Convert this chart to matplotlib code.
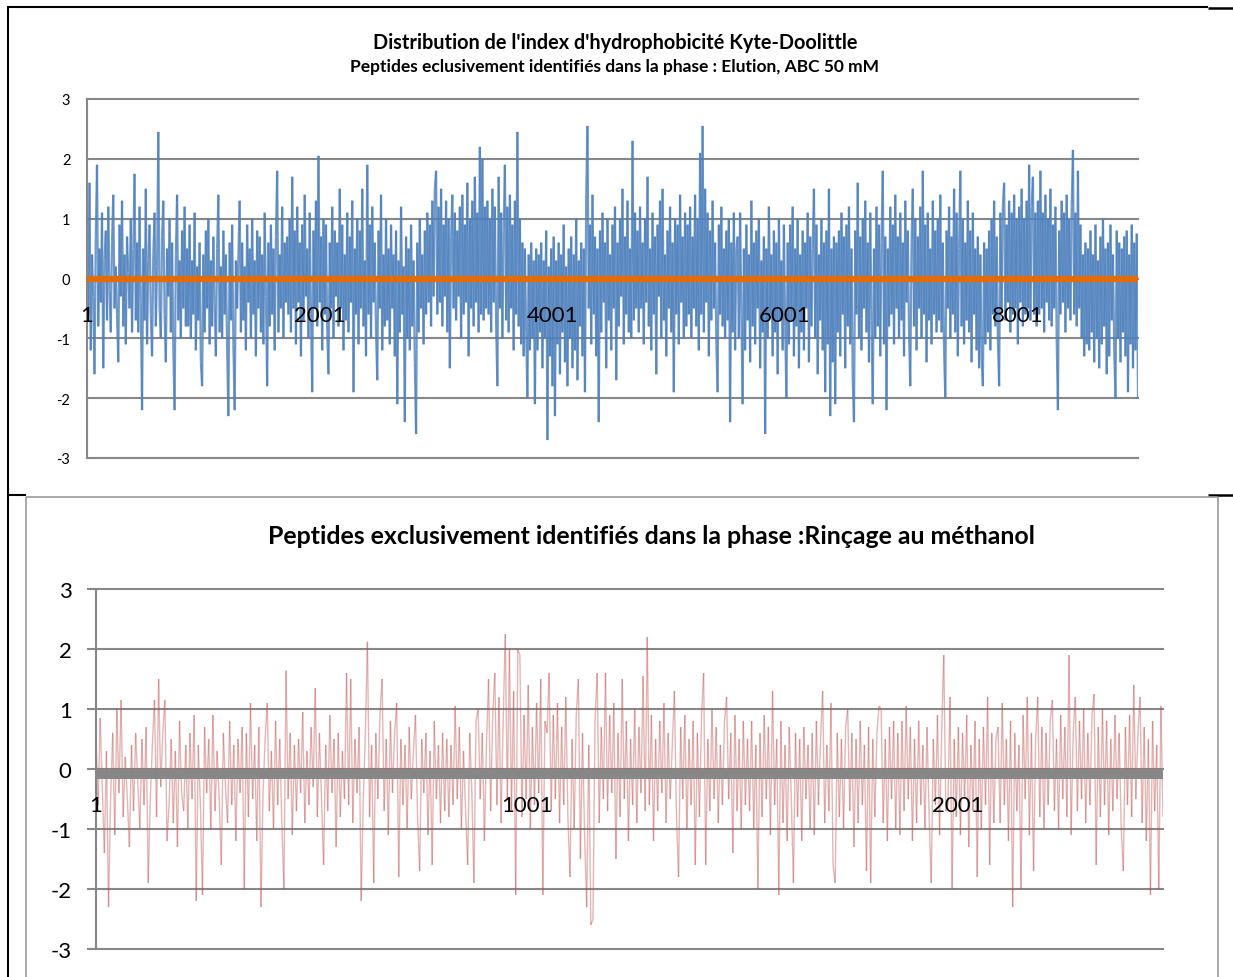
import numpy as np
import matplotlib
matplotlib.use("Agg")
import matplotlib.pyplot as plt
from matplotlib.collections import LineCollection
from matplotlib.lines import Line2D

plt.rcParams['font.family'] = ['Lato', 'DejaVu Sans']

# ---------------- data ----------------
title_top = "Distribution de l'index d'hydrophobicité Kyte-Doolittle"
subtitle_top = "Peptides eclusivement identifiés dans la phase : Elution, ABC 50 mM"
title_bottom = "Peptides exclusivement identifiés dans la phase :Rinçage au méthanol"

n_top = 9039          # number of peptides (top chart)
n_bottom = 2477       # number of peptides (bottom chart)
mean_top = -0.01
mean_bottom = -0.08
y_ticks = [-3, -2, -1, 0, 1, 2, 3]
x_ticks_top = [1, 2001, 4001, 6001, 8001]
x_ticks_bottom = [1, 1001, 2001]

hydro_top = [
    0.9,-0.6,1.6,-1.2,0.4,-0.3,-1.6,0.7,1.9,-0.8,0.5,-0.4,1.1,-1.5,0.3,0.8,-0.7,1.2,-0.2,-0.9,0.6,1.4,-0.5,0.2,-0.6,-1.4,0.9,-0.3,1.3,-0.8,0.4,-1.1,0.7,0.1,-0.5,1.0,-0.9,0.5,1.75,-0.7,
    0.6,-0.9,1.2,-0.4,-2.2,0.5,-0.7,1.5,-1.1,0.3,0.9,-0.6,-1.3,0.4,1.1,-0.8,0.2,2.45,-0.5,-1.0,0.7,1.3,-0.6,-1.4,0.5,-0.3,1.0,-0.9,0.6,-1.2,-2.2,0.4,1.4,-0.7,0.3,-1.0,0.8,-0.5,1.2,-0.8,
    0.5,-0.8,0.9,-1.0,0.3,-0.6,1.1,-1.2,0.2,-0.7,0.6,-1.4,-1.8,0.4,-0.9,0.8,-0.5,1.0,-1.1,0.3,-0.8,0.7,-0.4,-1.3,0.5,1.4,-0.9,0.2,-1.0,0.8,-0.6,0.4,-1.2,-2.3,0.6,-0.7,0.9,-1.1,-2.2,0.3,
    -0.5,0.4,1.3,-0.9,0.6,-0.7,0.2,-1.2,0.9,-0.4,0.5,-1.0,1.0,-0.6,0.3,-1.3,0.8,-0.5,0.7,-0.9,0.4,-1.1,1.1,-0.3,-1.8,0.6,-0.8,0.9,-0.6,0.5,-1.2,0.7,1.8,-0.9,0.4,-0.5,1.2,-1.0,0.6,-0.4,
    0.7,-0.6,1.0,-0.9,1.7,-0.5,0.8,-1.1,1.2,-0.4,0.6,-1.3,0.9,-0.7,1.4,-0.3,0.5,-1.0,1.1,-0.6,-1.9,0.8,-0.5,1.3,-0.8,2.05,-0.4,0.7,-1.2,1.0,-0.6,0.9,-0.9,-1.6,0.6,-0.5,1.2,-1.0,0.8,-0.3,
    0.6,-0.8,1.5,-0.5,0.9,-1.2,0.4,-0.7,1.1,-0.9,0.7,-0.4,1.3,-1.9,0.5,-0.6,1.0,-1.1,0.8,-0.5,1.5,-0.8,0.3,-1.3,1.9,-0.6,0.9,-1.0,1.2,-0.4,0.6,-0.9,-1.7,0.8,-0.5,1.4,-1.2,0.4,-0.8,1.0,
    -0.7,0.5,-1.1,0.9,-0.5,0.4,-1.3,0.8,-2.1,0.3,-0.9,1.2,-0.6,0.2,-2.4,0.7,-1.0,0.5,-1.2,0.9,-0.8,0.3,-1.4,-2.6,0.6,-0.9,1.0,-0.5,0.4,-1.1,0.8,-0.6,1.1,-0.4,0.9,-0.8,1.3,-0.3,1.5,1.8,
    -0.6,1.2,-0.4,1.5,-0.8,0.9,-0.3,1.3,-0.9,1.0,-1.5,0.7,1.4,-0.5,1.1,-0.7,0.8,-0.3,1.2,-1.0,1.4,-0.6,0.9,-0.4,1.6,-1.3,1.0,-0.5,1.3,-0.8,1.7,-0.4,1.1,-0.9,2.2,-0.6,2.0,-0.7,1.2,-0.5,
    1.3,-0.6,1.0,-0.9,1.5,-0.4,1.2,-0.8,-1.8,1.7,-0.5,1.1,-1.0,0.8,1.9,-0.7,1.2,-0.9,1.4,-0.5,0.9,-1.2,1.3,-0.6,2.45,-0.8,1.0,-1.1,0.6,-1.3,0.5,-0.9,-2.0,0.4,-1.2,0.6,-1.0,0.3,-2.1,0.5,
    -1.2,0.4,-0.9,0.6,-1.5,0.3,-1.0,0.8,-2.7,0.2,-1.3,0.5,-1.8,0.7,-2.3,0.3,-1.1,0.6,-1.6,0.4,-0.9,0.9,-1.4,0.2,-1.8,0.5,-1.0,0.7,-1.5,0.4,-1.2,1.0,-1.7,0.3,-0.8,0.6,-1.3,0.5,-1.9,1.4,
    2.55,-0.5,0.9,-1.1,1.4,-0.6,0.7,-1.3,0.5,-2.4,0.8,-0.9,1.1,-0.4,0.6,-1.5,1.0,-0.7,0.4,-1.2,0.9,-0.5,1.2,-1.7,0.6,-0.8,1.0,-0.3,1.5,-1.1,0.7,-0.6,1.3,-0.9,0.5,-1.0,2.3,-0.7,1.1,-0.5,
    0.8,-0.9,1.2,-0.5,0.6,-1.1,1.0,-0.4,1.7,-0.8,0.5,-1.2,1.1,-0.6,0.7,-1.6,0.9,-0.3,1.3,-1.0,1.5,-0.7,0.4,-1.3,0.8,-0.5,1.2,-0.9,0.6,-1.9,1.0,-0.6,0.9,-1.1,1.4,-0.4,0.7,-1.0,1.1,-0.8,
    0.9,-0.6,1.2,-1.0,0.7,-0.5,1.4,-0.8,1.0,-1.2,2.1,-0.6,2.55,-0.9,1.5,-0.4,1.1,-1.3,0.8,-0.7,1.3,-0.5,0.6,-1.1,-1.9,0.9,-0.6,1.2,-0.8,0.5,-1.0,0.8,-0.7,1.0,-2.4,0.6,-0.9,1.1,-1.2,0.5,
    0.7,-1.0,1.1,-0.6,-2.1,0.5,-1.2,0.9,-0.7,0.4,-1.4,1.3,-0.8,0.6,-1.1,0.8,-0.5,1.0,-1.5,0.3,-0.9,0.7,-2.6,0.5,-1.0,1.2,-0.6,0.4,-1.3,0.8,-0.9,0.6,-1.6,1.0,-0.7,0.3,-1.2,0.9,-0.8,-2.0,
    0.6,-1.1,0.9,-0.7,1.2,-1.3,0.5,-0.8,1.0,-1.5,0.4,-0.9,0.8,-1.2,0.6,-0.5,1.1,-1.4,0.7,-0.8,0.5,1.5,-1.0,0.9,-1.6,0.4,-0.7,1.0,-1.2,0.6,-1.9,0.8,-1.1,1.5,-2.3,0.5,-1.4,0.7,-2.1,0.6,
    -0.9,0.8,-1.3,1.1,-0.6,0.7,-1.5,0.9,-0.8,1.2,-1.1,0.5,-1.7,-2.4,0.8,-0.6,1.6,-1.0,0.7,-1.2,1.0,-0.5,1.3,-0.9,0.6,-1.4,1.1,-0.7,-2.1,0.5,-1.0,1.2,-0.8,0.9,-1.3,0.6,1.8,-1.1,0.7,-2.2,
    0.5,-0.8,1.2,-0.6,0.9,-1.1,1.4,-0.5,0.7,-1.0,1.1,-0.7,0.6,-1.3,1.3,-0.4,0.8,-0.9,-1.8,0.6,1.5,-0.8,1.0,-1.2,0.7,-0.5,1.2,-1.0,1.8,-0.6,0.9,-1.4,1.1,-0.7,0.5,-1.1,1.3,-0.6,0.8,-0.9,
    1.0,-0.7,1.4,-0.9,0.6,-1.2,-2.0,0.8,-0.5,1.2,-1.0,0.7,-0.6,1.5,-0.9,1.1,-1.3,0.5,1.8,-0.8,1.0,-1.1,0.6,-0.7,1.3,-0.9,0.8,-1.4,1.1,-0.6,0.5,-1.2,0.7,-1.5,0.4,-1.3,-1.8,0.6,-1.1,0.5,
    -0.9,0.8,-1.2,1.0,-0.6,1.3,-0.8,0.7,-1.0,-1.8,1.1,-0.5,1.2,1.6,-0.7,0.9,-0.4,1.3,-0.9,1.1,-0.6,1.4,-0.5,1.0,-1.1,1.2,-0.4,1.5,-0.8,1.0,-0.6,1.3,-0.5,1.9,-0.7,1.2,1.7,-0.6,1.1,-0.8,
    1.3,-0.6,1.8,-0.5,1.1,-0.9,1.4,-0.4,1.0,-0.7,1.5,-0.8,0.9,-0.5,1.2,-1.0,-2.2,0.8,-0.6,1.3,-0.4,1.1,-0.9,1.4,-0.5,1.0,-0.7,1.2,2.15,-0.6,1.1,-0.8,1.8,-0.5,0.9,-1.0,0.4,-1.3,0.6,-1.1,
    0.5,-1.2,0.8,-0.9,0.4,-1.4,0.9,-1.0,0.3,-1.5,0.7,-1.1,1.0,-0.8,0.5,-1.6,0.6,-1.3,0.9,-0.7,0.4,-1.2,-2.0,0.8,-1.0,0.6,-1.4,0.5,-0.9,0.7,-1.3,0.8,-1.9,0.4,-1.1,0.9,-1.5,0.6,-1.2,0.75,-2.0,
]

hydro_bottom = [
    0.5,-0.6,0.85,-0.3,-1.4,0.3,-2.3,-0.5,0.6,-1.1,1.0,-0.4,1.15,-0.8,0.2,-0.5,-1.3,0.4,-0.7,0.6,-0.2,-1.0,0.5,-0.6,
    0.7,-1.9,-0.5,0.4,1.15,-0.8,1.5,-0.3,0.6,1.15,-1.2,-0.6,0.5,-0.9,0.3,-1.3,0.8,-0.4,-0.7,0.4,-1.0,0.6,-0.5,0.9,
    -2.2,0.4,-0.6,-2.1,0.7,-0.4,0.5,-1.0,0.9,-0.7,0.3,-0.5,-1.6,0.6,-0.3,-0.9,0.8,-0.6,0.4,-1.2,0.5,-0.4,0.7,-2.0,
    0.6,-0.8,1.1,-0.5,0.4,-1.2,0.7,-2.3,-0.4,0.5,1.1,-0.7,0.3,-1.0,0.8,-0.6,0.5,-0.9,-2.0,1.64,-0.5,0.6,-1.1,0.4,
    -0.7,0.5,-0.4,0.95,-0.9,0.3,-0.6,0.7,-0.3,1.35,-0.8,0.6,-0.5,-1.6,0.4,-0.7,0.9,-0.4,0.5,-1.3,0.6,-0.8,0.3,-0.5,
    1.6,-0.6,1.5,-0.9,0.5,-0.4,0.7,-2.2,-0.5,0.6,2.12,-0.8,0.4,-1.9,0.6,-0.5,0.9,1.5,-0.7,0.5,-1.1,0.8,-0.4,0.6,
    1.1,-1.8,0.5,-0.6,0.4,-1.0,0.7,-0.5,0.3,0.9,-0.8,-1.7,0.5,-0.4,0.6,-1.1,0.3,-1.6,0.8,-0.5,0.4,-0.9,0.6,-0.7,
    0.5,-0.8,0.4,-0.6,1.05,-0.5,0.7,-1.0,0.3,-0.7,-1.6,0.6,-0.4,-1.9,0.8,1.0,-0.5,0.6,-1.2,0.4,1.5,-0.7,0.9,1.6,
    -0.6,1.2,-0.9,0.8,2.25,-0.5,2.0,-0.7,1.3,-2.1,2.0,1.9,-0.8,0.9,-0.5,1.4,-1.0,0.7,-0.6,1.1,-0.4,1.5,-2.1,0.8,
    0.6,1.6,-0.7,0.9,-0.5,1.1,-0.9,0.7,-0.6,1.2,-0.8,-1.8,0.5,-1.0,0.9,1.5,-1.5,0.6,-1.1,-2.3,0.4,-2.6,-2.5,0.8,
    1.6,-0.9,0.7,-0.5,1.6,-0.7,0.9,-0.4,1.1,-1.5,0.6,-0.8,1.5,-0.5,0.8,-1.2,0.5,-0.6,1.0,-0.9,0.7,-0.4,1.55,-0.7,
    2.2,-0.6,0.9,-1.2,0.5,-0.7,0.8,-0.4,1.1,-0.9,0.6,-0.5,0.4,1.3,-0.8,-1.8,0.7,-0.5,0.9,-1.0,0.5,-0.6,0.8,-1.6,
    0.6,-0.8,0.9,1.6,-1.6,0.5,-0.7,1.0,-0.5,0.7,-0.9,0.4,-0.6,0.8,1.2,-0.5,0.6,-1.4,0.9,-0.7,0.5,-1.0,0.8,-0.6,
    0.5,-0.7,0.8,-1.0,0.4,-2.0,0.6,-0.8,0.9,-0.5,0.7,-1.1,1.3,-0.6,0.5,-2.1,0.8,-0.9,0.4,-1.2,0.7,-0.5,-1.9,0.6,
    -0.8,0.5,-1.2,0.7,-0.5,0.4,-1.0,0.6,-1.1,0.8,-0.6,0.5,1.3,-0.9,0.4,-0.7,1.1,-1.6,-1.9,0.6,-0.8,0.5,-1.0,0.7,
    1.0,-0.7,0.6,-1.3,0.5,-0.9,0.8,-0.6,0.4,-1.7,0.7,-1.9,0.5,-0.8,0.6,1.05,1.0,-0.9,0.5,-1.2,0.7,-0.5,0.8,-1.0,
    0.6,-1.1,0.8,-0.7,1.05,-0.5,0.7,-1.2,0.5,-0.9,0.8,-0.6,0.4,-1.0,0.7,-0.8,-1.9,0.5,-0.6,0.9,-1.1,0.6,1.9,-0.7,
    -0.6,1.2,-2.0,0.5,-0.8,0.7,-1.1,0.6,-0.5,0.9,-1.3,0.4,-0.7,0.8,-1.8,0.5,-1.0,0.7,-0.6,1.2,-1.6,0.6,-0.9,0.5,
    0.7,-0.9,1.1,-0.6,0.5,-1.2,0.8,-2.3,0.6,-0.7,0.4,-2.0,0.9,-0.5,1.2,-1.1,0.6,-1.7,0.5,1.2,-0.8,0.7,-1.0,0.6,
    -0.6,0.8,1.15,-0.7,0.5,-1.0,0.9,-0.5,0.7,-0.8,1.9,-1.1,0.6,1.2,-0.7,0.8,-0.5,1.0,-0.9,0.6,-0.6,0.9,1.25,-1.6,
    0.7,-0.8,1.0,-0.6,0.8,-1.1,0.5,-0.7,0.9,-0.5,0.6,-1.0,-1.7,0.7,-0.6,0.9,-0.8,1.4,-0.5,0.6,1.2,-0.9,0.7,-1.2,0.5,-2.1,0.8,-0.7,0.4,-2.0,1.05,-0.8,
]

# ---------------- style ----------------
BLUE = '#4F81BD'
ORANGE = '#E36C0A'
RED = '#C0504D'
MEANGRAY = '#878787'
GRID = '#878787'

W, H = 1233, 978
fig = plt.figure(figsize=(W / 100, H / 100), dpi=100)
fig.patch.set_facecolor('white')


def fx(px):
    return px / W


def fy(py):
    return 1 - py / H


def series_lines(ax, n, vals, color, lw, alpha):
    x = np.linspace(1, n, len(vals))
    pts = np.column_stack([x, np.asarray(vals, dtype=float)])
    segs = np.stack([pts[:-1], pts[1:]], axis=1)
    lc = LineCollection(segs, colors=color, linewidths=lw, alpha=alpha, zorder=2,
                        capstyle='butt')
    ax.add_collection(lc)


def style_axes(ax, n, xticks, ylabsize, ypad, ytick_len, xlabsize, xpad):
    ax.set_xlim(1, n)
    ax.set_ylim(-3, 3)
    ax.set_yticks(y_ticks)
    ax.set_yticklabels([str(t) for t in y_ticks])
    ax.yaxis.grid(True, color=GRID, linewidth=1.5)
    ax.set_axisbelow(True)
    for s in ['top', 'right']:
        ax.spines[s].set_visible(False)
    ax.spines['left'].set_color(GRID)
    ax.spines['left'].set_linewidth(1.5)
    ax.spines['bottom'].set_position(('data', 0))
    ax.spines['bottom'].set_visible(False)
    ax.set_xticks(xticks)
    ax.set_xticklabels([str(t) for t in xticks])
    ax.tick_params(axis='x', length=0, pad=xpad, labelsize=xlabsize, labelcolor='black')
    ax.tick_params(axis='y', length=ytick_len, width=1.5, color=GRID, pad=ypad,
                   labelsize=ylabsize, labelcolor='black')
    ax.xaxis.set_zorder(5)
    for g in ax.yaxis.get_gridlines():
        g.set_clip_on(False)


# ---------------- top chart ----------------
ax1 = fig.add_axes([fx(87), fy(459), fx(1138) - fx(87), fy(100) - fy(459)])
series_lines(ax1, n_top, hydro_top, BLUE, 1.6, 0.8)
ax1.axhline(mean_top, color=ORANGE, linewidth=4.6, zorder=3, solid_capstyle='butt')
style_axes(ax1, n_top, x_ticks_top, 10.5, 12, 0, 16, 19)

# ---------------- bottom chart ----------------
ax2 = fig.add_axes([fx(96), fy(950), fx(1163) - fx(96), fy(590) - fy(950)])
series_lines(ax2, n_bottom, hydro_bottom, RED, 1.0, 0.42)
ax2.axhline(mean_bottom, color=MEANGRAY, linewidth=7.2, zorder=3, solid_capstyle='butt')
style_axes(ax2, n_bottom, x_ticks_bottom, 16, 11, 6.5, 16, 19)

# ---------------- titles (fitted to the reference width) ----------------
fig.canvas.draw()
renderer = fig.canvas.get_renderer()


def fitted_text(cx, cy, s, target_w, size0):
    t = fig.text(fx(cx), fy(cy), s, ha='center', va='center', fontsize=size0,
                 fontweight='bold', color='black')
    w = t.get_window_extent(renderer).width
    t.set_fontsize(size0 * target_w / w)
    return t


fitted_text(615.5, 43, title_top, 483, 13)
fitted_text(615, 67, subtitle_top, 528, 10)
fitted_text(651, 537, title_bottom, 772, 16)

# ---------------- document/table borders ----------------


def seg(x0, y0, x1, y1, color, lw):
    fig.add_artist(Line2D([fx(x0), fx(x1)], [fy(y0), fy(y1)], transform=fig.transFigure,
                          color=color, linewidth=lw, solid_capstyle='butt'))


seg(8, 8, 1208, 8, 'black', 1.5)
seg(1208, 9, 1233, 9, 'black', 1.8)
seg(8, 7, 8, 978, 'black', 1.5)
seg(8, 496, 26, 496, 'black', 1.5)
seg(1208, 496, 1233, 496, 'black', 1.8)
seg(26, 498, 1218, 498, '#9a9a9a', 1.2)
seg(26, 498, 26, 978, '#9a9a9a', 1.2)
seg(1218, 498, 1218, 978, '#9a9a9a', 1.2)

fig.savefig('out.png', dpi=100, facecolor='white')
